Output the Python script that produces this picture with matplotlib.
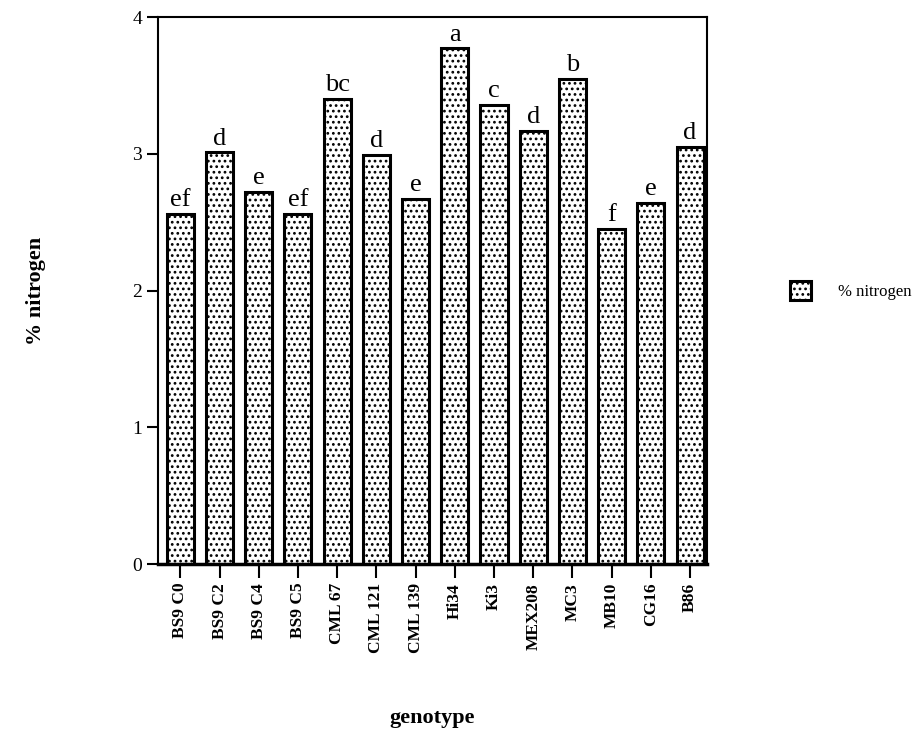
import numpy as np
import matplotlib
matplotlib.use("Agg")
import matplotlib.pyplot as plt

genotypes = ["BS9 C0", "BS9 C2", "BS9 C4", "BS9 C5", "CML 67", "CML 121", "CML 139",
             "Hi34", "Ki3", "MEX208", "MC3", "MB10", "CG16", "B86"]
nitrogen = [2.56, 3.01, 2.72, 2.56, 3.40, 2.99, 2.67, 3.77, 3.36, 3.17, 3.55, 2.45, 2.64, 3.05]
groups = ["ef", "d", "e", "ef", "bc", "d", "e", "a", "c", "d", "b", "f", "e", "d"]

plt.rcParams['font.family'] = ['Liberation Serif', 'DejaVu Serif']
plt.rcParams['hatch.linewidth'] = 1.2

fig = plt.figure(figsize=(9.2, 7.4), dpi=100)
ax = fig.add_axes([0.1717, 0.2378, 0.5967, 0.7392])

x = np.arange(len(genotypes))
bars = ax.bar(x, nitrogen, width=0.69, color="white", edgecolor="black",
              linewidth=2.2, hatch="...", label="% nitrogen")

for bar, g in zip(bars, groups):
    ax.text(bar.get_x() + bar.get_width() / 2, bar.get_height() + 0.02, g,
            ha="center", va="bottom", fontsize=19)

ax.set_xlim(-0.57, 13.43)
ax.set_ylim(0, 4)
ax.set_yticks([0, 1, 2, 3, 4])
ax.tick_params(axis="y", direction="out", length=8, width=1.5, labelsize=14)
ax.set_xticks(x)
ax.set_xticklabels(genotypes, rotation=90, fontsize=12.5, fontweight="bold")
ax.tick_params(axis="x", direction="out", length=10, width=1.5)
for side in ["left", "right", "top"]:
    ax.spines[side].set_linewidth(1.5)
ax.spines["bottom"].set_linewidth(2.5)

ax.set_ylabel("% nitrogen", fontsize=16, fontweight="bold", labelpad=62)
ax.set_xlabel("genotype", fontsize=16, fontweight="bold", labelpad=40)

ax.legend(loc="center left", bbox_to_anchor=(1.14, 0.5), frameon=False,
          fontsize=12, handlelength=1.25, handleheight=1.35, handletextpad=1.6,
          borderaxespad=0)

fig.savefig("out.png", dpi=100)
